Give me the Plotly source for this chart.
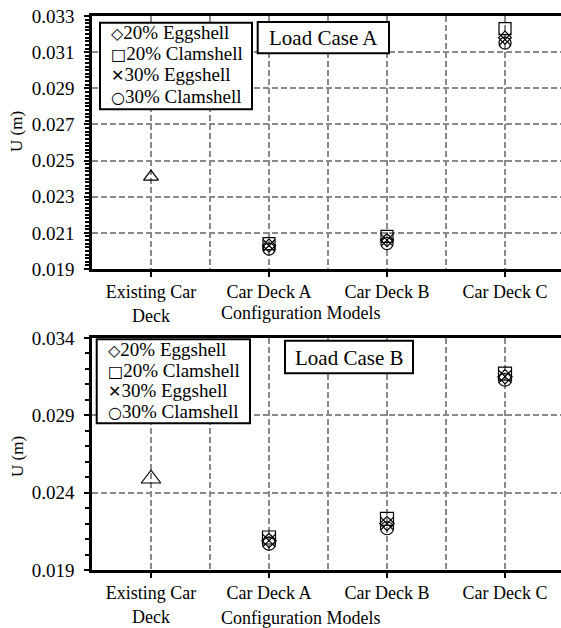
import plotly.graph_objects as go

# ---------------- data ----------------
categories = ["Existing Car<br>Deck", "Car Deck A", "Car Deck B", "Car Deck C"]
series_names = ["20% Eggshell", "20% Clamshell", "30% Eggshell", "30% Clamshell"]
series_symbols = ["diamond-open", "square-open", "x-thin-open", "circle-open"]
legend_glyphs = ["\u25C7", "\u25A1", "\u2715", "\u25CB"]

# Load Case A (values for Car Deck A, B, C)
existing_A = [0.0241]
eggshell20_A = [0.0203, 0.0206, 0.0318]
clamshell20_A = [0.0204, 0.0208, 0.0323]
eggshell30_A = [0.0203, 0.0206, 0.0317]
clamshell30_A = [0.0201, 0.0204, 0.0315]

# Load Case B
existing_B = [0.0249]
eggshell20_B = [0.0209, 0.0220, 0.0315]
clamshell20_B = [0.0211, 0.0223, 0.0317]
eggshell30_B = [0.0209, 0.0220, 0.0315]
clamshell30_B = [0.0207, 0.0217, 0.0313]

y_ticks_A = [0.019, 0.021, 0.023, 0.025, 0.027, 0.029, 0.031, 0.033]
y_ticks_B = [0.019, 0.024, 0.029, 0.034]

# ---------------- figure ----------------
W, H = 561, 628
FONT = "Liberation Serif"
GRID = "#8a8a8a"


def px(v):
    return v / W


def py(v):
    return 1 - v / H


fig = go.Figure()

xpos = list(range(len(categories)))
config_x = xpos[1:]

panels = [
    ("x", "y", existing_A, [eggshell20_A, clamshell20_A, eggshell30_A, clamshell30_A], 13, 12),
    ("x2", "y2", existing_B, [eggshell20_B, clamshell20_B, eggshell30_B, clamshell30_B], 17, 13),
]

for xa, ya, existing, series, tri_size, msize in panels:
    fig.add_trace(go.Scatter(
        x=xpos[:1], y=existing, mode="markers", xaxis=xa, yaxis=ya,
        marker=dict(symbol="triangle-up-open", size=tri_size, color="black",
                    line=dict(width=1.2, color="black")),
        showlegend=False, name="Existing Car Deck"))
    for name, sym, vals in zip(series_names, series_symbols, series):
        fig.add_trace(go.Scatter(
            x=config_x, y=vals, mode="markers", xaxis=xa, yaxis=ya, name=name,
            showlegend=False,
            marker=dict(symbol=sym, size=msize if sym != "diamond-open" else msize - 2,
                        color="black", line=dict(width=1.2, color="black"))))

x_common = dict(
    range=[-0.5, -0.5 + 469 / 118],
    tickmode="array", tickvals=xpos, ticktext=categories,
    ticks="outside", ticklen=5, tickwidth=1.5, tickcolor="black",
    showline=True, linecolor="black", linewidth=2.5, mirror=True,
    showgrid=True, gridcolor=GRID, gridwidth=1.5, griddash="6px,3px",
    minor=dict(tickmode="array", tickvals=[0.5, 1.5, 2.5], showgrid=True,
               gridcolor=GRID, gridwidth=1.5, griddash="6px,3px", ticks=""),
    tickfont=dict(family=FONT, size=18, color="black"),
    zeroline=False, automargin=False,
)

y_common = dict(
    tickmode="array",
    ticks="outside", ticklen=5, tickwidth=1.5, tickcolor="black",
    showline=True, linecolor="black", linewidth=2.5, mirror=False,
    showgrid=True, gridcolor=GRID, gridwidth=1.5, griddash="6px,3px",
    tickfont=dict(family=FONT, size=19, color="black"),
    tickformat=".3f", zeroline=False, ticklabelstandoff=6, automargin=False,
)

fig.update_layout(
    width=W, height=H,
    margin=dict(l=0, r=0, t=0, b=0, autoexpand=False),
    paper_bgcolor="white", plot_bgcolor="white",
    font=dict(family=FONT, color="black"),
    showlegend=False,
    xaxis=dict(x_common, domain=[px(92), 1], anchor="y"),
    yaxis=dict(y_common, domain=[py(269), py(16)], range=[0.019, 0.033],
               tickvals=y_ticks_A, anchor="x",
               minor=dict(dtick=0.0002, tick0=0.019, ticks="outside", ticklen=4,
                          tickwidth=1.5, tickcolor="black", showgrid=False)),
    xaxis2=dict(x_common, domain=[px(92), 1], anchor="y2"),
    yaxis2=dict(y_common, domain=[py(570), py(338)], range=[0.019, 0.034],
                tickvals=y_ticks_B, anchor="x2",
                minor=dict(dtick=0.001, tick0=0.019, ticks="outside", ticklen=4,
                           tickwidth=1.5, tickcolor="black", showgrid=False)),
)

shapes = []
annotations = []

# legend boxes (drawn as shapes + text lines)
legend_boxes = [
    (100, 252, 22.7, 109.3, 109, [32.7, 53.3, 74.5, 96.5]),
    (96.7, 250, 339.3, 423.3, 106, [349.5, 370, 390.8, 411.7]),
]
glyph_style = "font-family:DejaVu Sans;font-size:16px"
for x0, x1, y0, y1, tx, rows in legend_boxes:
    shapes.append(dict(type="rect", xref="paper", yref="paper",
                       x0=px(x0), x1=px(x1), y0=py(y1), y1=py(y0),
                       line=dict(color="black", width=2), fillcolor="white",
                       layer="above"))
    for glyph, name, ry in zip(legend_glyphs, series_names, rows):
        annotations.append(dict(
            text='<span style="%s">%s</span>%s' % (glyph_style, glyph, name),
            x=px(tx), y=py(ry), xref="paper", yref="paper", xanchor="left",
            yanchor="middle", showarrow=False,
            font=dict(family=FONT, size=19, color="black")))

# load case boxes
case_boxes = [
    ("Load Case A", 257.7, 389, 22, 53.3),
    ("Load Case B", 285, 413, 340.7, 373.3),
]
for label, x0, x1, y0, y1 in case_boxes:
    shapes.append(dict(type="rect", xref="paper", yref="paper",
                       x0=px(x0), x1=px(x1), y0=py(y1), y1=py(y0),
                       line=dict(color="black", width=2), fillcolor="white",
                       layer="above"))
    annotations.append(dict(text=label, x=px((x0 + x1) / 2), y=py((y0 + y1) / 2 + 0.5),
                            xref="paper", yref="paper", xanchor="center",
                            yanchor="middle", showarrow=False,
                            font=dict(family=FONT, size=21, color="black")))

ann_font = dict(family=FONT, size=18, color="black")
for ty in (313, 618):
    annotations.append(dict(text="Configuration Models", x=px(301), y=py(ty),
                            xref="paper", yref="paper", xanchor="center",
                            yanchor="middle", showarrow=False, font=ann_font))
for ty in (132, 457):
    annotations.append(dict(text="U (m)", x=px(17), y=py(ty), xref="paper", yref="paper",
                            xanchor="center", yanchor="middle", showarrow=False,
                            textangle=-90, font=dict(family=FONT, size=17, color="black")))

fig.update_layout(shapes=shapes, annotations=annotations)

fig.write_html("out.html")
